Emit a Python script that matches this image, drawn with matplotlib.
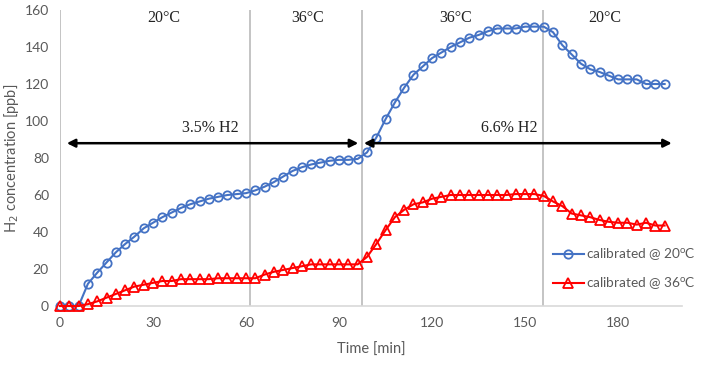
import numpy as np
import matplotlib
matplotlib.use("Agg")
import matplotlib.pyplot as plt

# time axis, one reading every 3 min
time_min = np.arange(0, 198, 3)

# calibrated @ 20 oC (blue circles)
cal_20 = [0, 0, 0, 12, 18, 23.5, 29, 33.5, 37.5, 42, 45, 48, 50.5, 53, 55,
          56.5, 58, 59, 60, 60.5, 61, 62.5, 64.5, 67, 70, 73, 75, 76.5, 77.5,
          78.5, 79, 79, 79.5, 83, 91, 101, 110, 118, 125, 129.5, 134, 137, 140,
          142.5, 145, 146.5, 148.5, 150, 150, 150, 151, 151, 151, 148, 141,
          136, 131, 128, 126.5, 124.5, 122.5, 122.5, 122.5, 120, 120, 120]

# calibrated @ 36 oC (red triangles)
cal_36 = [0, 0, 0, 1, 2.5, 4.5, 6.5, 8.5, 10.5, 11.5, 12.5, 13.5, 13.5, 14.5,
          14.5, 14.5, 14.5, 15, 15, 15, 15, 15, 17, 18.5, 19.5, 20.5, 21.5,
          22.5, 22.5, 22.5, 22.5, 22.5, 22.5, 26.5, 33.5, 41, 48, 52, 55, 56,
          58, 59, 60, 60, 60, 60, 60, 60, 60, 60.5, 60.5, 60.5, 59.5, 56.5, 54,
          50, 49, 48, 46.5, 45.5, 45, 45, 44, 45, 43.5, 43.5]

# phase boundaries (min) and labels
boundaries = [0, 61.3, 97.3, 155.8]
temp_labels = ["20°C", "36°C", "36°C", "20°C"]
temp_label_x = [33.5, 80, 127.7, 175.8]
gas_labels = ["3.5% H2", "6.6% H2"]
gas_spans = [(2.2, 96.2), (98, 197.3)]
gas_label_x = [48.4, 145]

plt.rcParams["font.family"] = ["Lato", "DejaVu Sans"]

fig = plt.figure(figsize=(7.09, 3.66), dpi=100)
ax = fig.add_axes([60 / 709, 1 - 306 / 366, 622 / 709, 296 / 366])

for b in boundaries:
    ax.axvline(b, color="#BFBFBF", lw=1.3, zorder=1)

ax.plot(time_min, cal_20, color="#4472C4", lw=1.5, marker="o", ms=6,
        mfc="none", mec="#4472C4", mew=1.3,
        label="calibrated @ 20$^{\\mathregular{o}}$C",
        clip_on=False, zorder=3)
ax.plot(time_min, cal_36, color="#FF0000", lw=1.5, marker="^", ms=6.5,
        mfc="none", mec="#FF0000", mew=1.3,
        label="calibrated @ 36$^{\\mathregular{o}}$C",
        clip_on=False, zorder=3)

for (x0, x1) in gas_spans:
    ax.annotate("", xy=(x0, 88), xytext=(x1, 88),
                arrowprops=dict(arrowstyle="<|-|>", color="black", lw=1.8,
                                mutation_scale=12, shrinkA=0, shrinkB=0),
                zorder=4)
for lab, x in zip(gas_labels, gas_label_x):
    ax.text(x, 96, lab, ha="center", va="center", fontsize=11.5,
            family="Liberation Serif", color="#222222")
for lab, x in zip(temp_labels, temp_label_x):
    ax.text(x, 155.5, lab, ha="center", va="center", fontsize=11.5,
            family="Liberation Serif", color="#222222")

ax.set_xlim(0, 200.6)
ax.set_ylim(0, 160)
ax.set_xticks(np.arange(0, 181, 30))
ax.set_yticks(np.arange(0, 161, 20))
ax.tick_params(length=0, labelsize=10, colors="#595959", pad=8)
for s in ["top", "right", "left"]:
    ax.spines[s].set_visible(False)
ax.spines["bottom"].set_color("#D9D9D9")
ax.spines["bottom"].set_linewidth(1.2)

ax.set_xlabel("Time [min]", fontsize=10.5, color="#595959", labelpad=10)
ax.set_ylabel("H$_2$ concentration [ppb]", fontsize=10.5, color="#595959")
ax.yaxis.set_label_coords(-39 / 622, 0.5)

leg = ax.legend(loc="center left", bbox_to_anchor=(546 / 709, 1 - 269 / 366),
                bbox_transform=fig.transFigure, frameon=False, fontsize=9.8,
                handlelength=2.3, handletextpad=0.15, labelspacing=0.95,
                borderpad=0)
for t in leg.get_texts():
    t.set_color("#595959")

fig.savefig("out.png", dpi=100)
